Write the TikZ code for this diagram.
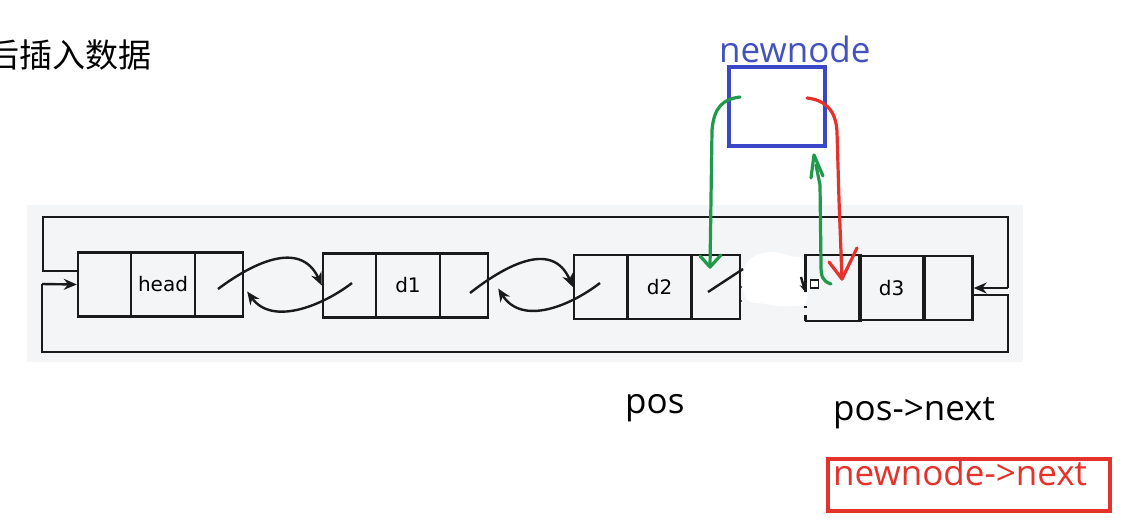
\documentclass[tikz,border=0pt]{standalone}
\usepackage{fontspec}
\newfontfamily\ui{Open Sans}
\newfontfamily\lab{DejaVu Sans}
\newfontfamily\cjk{Noto Sans CJK SC}
\usetikzlibrary{arrows.meta}
\definecolor{panel}{HTML}{F3F5F7}
\definecolor{bluebox}{HTML}{3A48C8}
\definecolor{bluetxt}{HTML}{4352BC}
\definecolor{penred}{HTML}{E5322A}
\definecolor{pengreen}{HTML}{1F9A4A}
\definecolor{ink}{HTML}{1A1A1A}
\tikzset{
  cell/.style={draw=ink, line width=2.4pt, inner sep=0pt, minimum height=64pt, font=\lab\fontsize{20}{24}\selectfont},
  pcell/.style={cell, minimum width=53pt},
  dcell/.style={cell, minimum width=64pt},
  ncell/.style={cell, minimum width=48pt},
  link/.style={line width=2.4pt, draw=ink, -{Stealth[length=13pt,width=11pt]}},
  wire/.style={line width=2.4pt, draw=ink},
  loopin/.style={wire, -{Stealth[length=13pt,width=11pt]}},
  pen/.style={line width=3.2pt, line cap=round, line join=round},
  bigtxt/.style={font=\ui\fontsize{35}{40}\selectfont, inner sep=0pt, anchor=base west}
}
\begin{document}
\begin{tikzpicture}[x=1pt,y=-1pt]
\useasboundingbox (0,0) rectangle (1123,523);
\fill[white] (0,0) rectangle (1123,523);
% panel
\fill[panel] (27,205) rectangle (1023,362);
% erased area
\fill[white] plot[smooth cycle, tension=0.7] coordinates {(744,272) (752,258) (770,252) (790,256) (804,262) (807,300) (790,306) (765,304) (746,298)};

% title
\node[anchor=east, inner sep=0pt, font=\cjk\fontsize{33}{36}\selectfont] (title) at (152,55) {后插入数据};

% head node
\node[pcell] (hp) at (104.5,284.5) {};
\node[dcell] (hd) at (163,284.5) {head};
\node[ncell] (hn) at (219,284.5) {};
% d1
\node[pcell] (ap) at (349.5,285.5) {};
\node[dcell] (ad) at (408,285.5) {d1};
\node[ncell] (an) at (464,285.5) {};
% d2
\node[pcell] (bp) at (600.5,287) {};
\node[dcell] (bd) at (659.5,287) {d2};
\node[ncell] (bn) at (716,287) {};
% d3 (left edge partly erased)
\node[pcell, draw=none] (cp) at (833,288) {};
\draw[wire] (cp.south west) -- (cp.south east) -- (cp.north east) -- (cp.north west) -- ([yshift=-4pt]cp.west);
\draw[wire] (cp.south west) -- ([yshift=6pt]cp.south west);
\draw[wire] ([yshift=13pt]cp.south west) -- ([yshift=15pt]cp.south west);
\node[dcell] (cd) at (891.5,288) {d3};
\node[ncell] (cn) at (948.5,288) {};

% links head <-> d1
\coordinate (h1s) at (218,289);
\coordinate (a1s) at (352,283);
\draw[link] (h1s) .. controls (250,265) and (300,238) .. (ap.west);
\draw[link] (a1s) .. controls (322,306) and (272,326) .. ([xshift=3pt,yshift=-7pt]hn.east);
% links d1 <-> d2
\coordinate (a2s) at (470,293);
\coordinate (b2s) at (600,283);
\draw[link] (a2s) .. controls (502,268) and (552,238) .. (bp.west);
\draw[link] (b2s) .. controls (570,306) and (522,326) .. ([xshift=9pt,yshift=-3pt]an.east);
% d2 next slash
\draw[wire] (708,292) -- (743,269);
\fill[ink] (741,287) circle (1pt) (741,301) circle (1pt);
% d3 prev marker
\draw[wire, -{Stealth[length=8pt,width=7pt]}] (801,277) -- ([yshift=-4pt]cp.west);
\node[draw=ink, fill=white, line width=1.4pt, minimum size=8pt, inner sep=0pt] (sq) at (814.5,284) {};

% outer loops
\draw[wire] ([yshift=13.5pt]hp.west) -- (43,271) -- (43,217) -- (1008,217) -- (1008,288);
\draw[loopin] (1008,288) -- (cn.east);
\draw[wire] ([yshift=-7pt]cn.east) -- (1008,295) -- (1008,352) -- (42,352) -- (42,284);
\draw[loopin] (42,284) -- (hp.west);

% newnode
\node[draw=bluebox, line width=4.5pt, minimum width=96pt, minimum height=79pt, inner sep=0pt] (nn) at (777,106.5) {};
\node[bigtxt, text=bluetxt] (nnl) at (719,62) {newnode};

% hand-drawn annotations
\coordinate (g1a) at (740,97);
\coordinate (g1b) at (710,267);
\draw[pen, pengreen] (g1a) .. controls (724,99) and (714,106) .. (712,130) -- (g1b);
\draw[pen, pengreen] (700,256) -- (g1b) -- (721,255);
\coordinate (g2a) at (831,284);
\coordinate (g2b) at (814,155);
\draw[pen, pengreen] (g2a) .. controls (822,281) and (821,276) .. (821,265) -- (820,185) -- (816,165);
\draw[pen, pengreen] (811,178) -- (g2b) -- (823,176);
\coordinate (r1a) at (807,98);
\coordinate (r1b) at (842,279);
\draw[pen, penred] (r1a) .. controls (825,100) and (836,110) .. (837,132) -- (839,200) -- (r1b);
\draw[pen, penred] (829,262) -- (r1b) -- (857,248);

% labels
\node[bigtxt] (pos) at (625,413) {pos};
\node[bigtxt] (posn) at (833,420) {pos->next};
\draw[penred, line width=4.5pt] (828,459) rectangle (1110,511);
\node[bigtxt, text=penred] (nnn) at (833,485) {newnode->next};
\end{tikzpicture}
\end{document}
